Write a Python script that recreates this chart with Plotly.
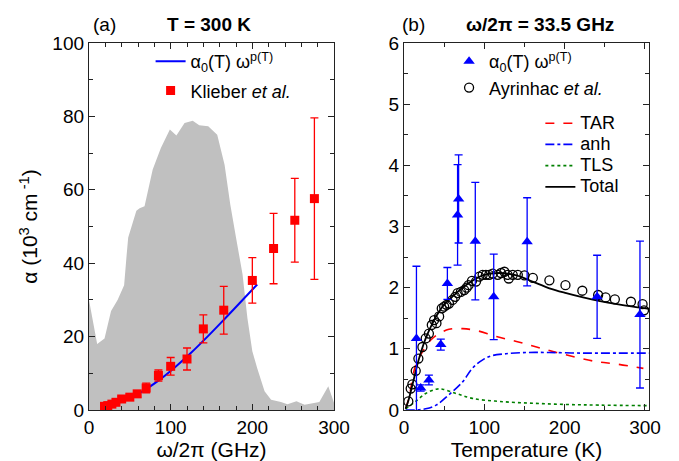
import plotly.graph_objects as go

# (a) T = 300 K
spec_x = [0, 5, 10, 19, 27, 35, 43, 46, 48, 58, 62, 68, 78, 88, 99, 107, 117, 127,
          135, 146, 157, 166, 173, 180, 188, 194, 200, 206, 215, 223, 235, 243, 254,
          264, 282, 293, 300]
spec_y = [30, 24, 18, 19.5, 27, 30, 34, 42, 47, 54.3, 55, 55.5, 65.5, 71.4, 76.4,
          74.8, 78.2, 78.8, 77.6, 77.3, 75, 66.8, 56, 47, 37, 25, 16, 11.4, 5.1, 2.8,
          2.2, 1.6, 2.4, 1.4, 2.2, 6.5, 2]

klieber_f = [19, 23, 28, 33, 40, 50, 59, 70, 85, 100, 120, 140, 165, 200, 226, 252, 276]
klieber_a = [1.0, 1.2, 1.6, 2.1, 3.0, 3.5, 4.4, 6.0, 9.4, 11.9, 13.9, 22.1, 27.2,
             35.3, 44.0, 51.7, 57.6]
klieber_err = [0.4, 0.4, 0.5, 0.6, 0.7, 0.8, 0.9, 1.3, 1.5, 2.4, 3.0, 3.8, 6.5,
               6.2, 9.6, 11.4, 22.0]

fit_f = [38, 50, 64, 85, 105, 125, 146, 166, 186, 206]
fit_a = [2.2, 3.4, 4.9, 8.0, 11.6, 15.6, 20.2, 24.8, 29.5, 34.2]

# (b) 33.5 GHz
tri_T = [15.5, 20.8, 31, 45.8, 54, 66.7, 68, 88.75, 111.7, 153.3, 240.4, 293.75]
tri_a = [1.17, 0.36, 0.49, 1.07, 2.07, 3.19, 3.45, 2.76, 1.85, 2.75, 1.85, 1.56]
tri_err = [1.18, 0.05, 0.08, 0.09, 0.26, 0.82, 0.72, 0.96, 0.70, 0.72, 0.68, 1.20]

ayr_T = [5.4, 8.3, 10.4, 14.6, 17.9, 22.9, 27, 31, 34.6, 37.5, 40.4, 43.75, 47, 50,
         53, 56, 60.4, 63.75, 66.7, 70.8, 75, 78, 80.4, 84.6, 89.6, 93.75, 97.9, 102,
         106, 110.4, 116.7, 120.8, 125, 129, 130.4, 135.4, 141.7, 150, 160.4, 181,
         201, 222, 241.7, 251, 262.5, 282.5, 297, 298.75]
ayr_a = [0.14, 0.35, 0.42, 0.64, 0.84, 1.03, 1.17, 1.25, 1.39, 1.47, 1.42, 1.53, 1.66,
         1.69, 1.72, 1.74, 1.80, 1.85, 1.91, 1.93, 1.96, 2.0, 2.04, 2.11, 2.10, 2.18,
         2.21, 2.21, 2.21, 2.23, 2.21, 2.24, 2.26, 2.21, 2.15, 2.21, 2.21, 2.2, 2.16,
         2.12, 2.04, 1.95, 1.88, 1.84, 1.81, 1.77, 1.73, 1.63]

total_T = [2, 6.25, 12.5, 18.75, 27, 37.5, 48, 60, 77, 98, 119, 140, 160, 181, 202,
           223, 244, 265, 285, 308]
total_a = [0.02, 0.19, 0.52, 0.84, 1.17, 1.47, 1.69, 1.85, 2.04, 2.2, 2.24, 2.2, 2.1,
           1.99, 1.91, 1.84, 1.78, 1.73, 1.69, 1.65]

tar_T = [2, 6, 14.6, 23, 33, 44, 56, 73, 90, 115, 140, 165, 190, 215, 240, 265, 298]
tar_a = [0.02, 0.19, 0.74, 0.95, 1.14, 1.25, 1.32, 1.33, 1.30, 1.2, 1.12, 1.03, 0.94,
         0.86, 0.79, 0.75, 0.68]

anh_T = [2, 15, 27, 40, 56, 73, 85, 98, 110, 127, 152, 181, 223, 265, 308]
anh_a = [0.0, 0.0, 0.02, 0.08, 0.25, 0.46, 0.68, 0.82, 0.89, 0.92, 0.94, 0.94, 0.93,
         0.93, 0.93]

tls_T = [2, 14.6, 27, 40, 48, 65, 85, 119, 160, 202, 244, 308]
tls_a = [0.02, 0.14, 0.27, 0.34, 0.34, 0.27, 0.19, 0.14, 0.11, 0.09, 0.08, 0.07]

FONT = "Arial, Liberation Sans, sans-serif"


def big(txt, size=18):
    # bigger glyphs than the legend's row height would give
    return f"<span style='font-size:{size}px'>{txt}</span>"


fig = go.Figure()

fig.add_trace(go.Scatter(x=spec_x, y=spec_y, fill="tozeroy", mode="none",
                         fillcolor="#c0c0c0", showlegend=False,
                         xaxis="x", yaxis="y"))
fig.add_trace(go.Scatter(x=fit_f, y=fit_a, mode="lines", line=dict(color="#0000ff", width=2, shape="spline"),
                         name="α<sub>0</sub>(T) ω<sup>p(T)</sup>",
                         legend="legend", legendgroup="a1"))
fig.add_trace(go.Scatter(x=klieber_f, y=klieber_a, mode="markers",
                         marker=dict(symbol="square", size=9, color="#ff0000"),
                         error_y=dict(type="data", array=klieber_err, color="#ff0000",
                                      thickness=1.3, width=4),
                         name="Klieber <i>et al.</i>",
                         legend="legend", legendgroup="a2"))

fig.add_trace(go.Scatter(x=tar_T, y=tar_a, mode="lines", xaxis="x2", yaxis="y2",
                         line=dict(color="#ff0000", width=1.6, dash="dash", shape="spline"),
                         name=big("TAR"), legend="legend3"))
fig.add_trace(go.Scatter(x=anh_T, y=anh_a, mode="lines", xaxis="x2", yaxis="y2",
                         line=dict(color="#0000ff", width=1.6, dash="dashdot", shape="spline"),
                         name=big("anh"), legend="legend3"))
fig.add_trace(go.Scatter(x=tls_T, y=tls_a, mode="lines", xaxis="x2", yaxis="y2",
                         line=dict(color="#008000", width=1.6, dash="dot", shape="spline"),
                         name=big("TLS"), legend="legend3"))
fig.add_trace(go.Scatter(x=total_T, y=total_a, mode="lines", xaxis="x2", yaxis="y2",
                         line=dict(color="#000000", width=1.8, shape="spline"),
                         name=big("Total"), legend="legend3"))
fig.add_trace(go.Scatter(x=ayr_T, y=ayr_a, mode="markers", xaxis="x2", yaxis="y2",
                         marker=dict(symbol="circle-open", size=9, color="#000000",
                                     line=dict(width=1.3)),
                         name="Ayrinhac <i>et al.</i>", legend="legend2", legendgroup="b2"))
fig.add_trace(go.Scatter(x=tri_T, y=tri_a, mode="markers", xaxis="x2", yaxis="y2",
                         marker=dict(symbol="triangle-up", size=10, color="#0000ff"),
                         error_y=dict(type="data", array=tri_err, color="#0000ff",
                                      thickness=1.3, width=4),
                         name="α<sub>0</sub>(T) ω<sup>p(T)</sup>",
                         legend="legend2", legendgroup="b1"))

axis_common = dict(showline=True, linecolor="#222222", linewidth=1.3, mirror="ticks",
                   ticks="inside", ticklen=6, tickwidth=1.2, tickcolor="#222222",
                   showgrid=False, zeroline=False,
                   tickfont=dict(size=19, color="#000000"))

fig.update_layout(
    width=679, height=461,
    margin=dict(l=81, r=38, t=35, b=59),
    paper_bgcolor="white", plot_bgcolor="white",
    font=dict(family=FONT, size=18, color="#000000"),
    xaxis=dict(domain=[0, 0.4375], range=[0, 300], dtick=100,
               minor=dict(dtick=20, ticks="inside", ticklen=4, tickcolor="#222222"),
               title=dict(text="ω/2π (GHz)", font=dict(size=21), standoff=4),
               **axis_common),
    yaxis=dict(range=[0, 100], dtick=20,
               minor=dict(dtick=10, ticks="inside", ticklen=4, tickcolor="#222222"),
               title=dict(text="α (10<sup>3</sup> cm<sup> -1</sup>)", font=dict(size=21), standoff=8),
               **axis_common),
    xaxis2=dict(domain=[0.5625, 1], range=[0, 305], dtick=100, anchor="y2",
                minor=dict(dtick=50, ticks="inside", ticklen=4, tickcolor="#222222"),
                title=dict(text="Temperature (K)", font=dict(size=21), standoff=4),
                **axis_common),
    yaxis2=dict(range=[0, 6], dtick=1, anchor="x2",
                minor=dict(dtick=0.5, ticks="inside", ticklen=4, tickcolor="#222222"),
                **axis_common),
    legend=dict(x=0.11, y=1.0, xanchor="left", yanchor="top", bgcolor="rgba(0,0,0,0)",
                font=dict(size=18), tracegroupgap=3),
    legend2=dict(x=0.643, y=1.0, xanchor="left", yanchor="top", bgcolor="rgba(0,0,0,0)",
                 font=dict(size=18), tracegroupgap=5, traceorder="reversed"),
    legend3=dict(x=0.806, y=0.824, xanchor="left", yanchor="top", bgcolor="rgba(0,0,0,0)",
                 font=dict(size=14)),
)

# title annotations, given in pixels and converted to paper fractions
W, H = 679 - 81 - 38, 461 - 35 - 59
titles = [("(a)", 83, "left"), ("<b>T = 300 K</b>", 201, "center"),
          ("(b)", 405, "center"), ("<b>ω/2π = 33.5 GHz</b>", 532, "center")]
fig.update_layout(annotations=[
    dict(text=t, x=(px - 81) / W, y=(402 - 16) / H, xref="paper", yref="paper",
         showarrow=False, xanchor=anc, yanchor="middle", font=dict(size=19))
    for t, px, anc in titles
])

fig.write_html("out.html")
